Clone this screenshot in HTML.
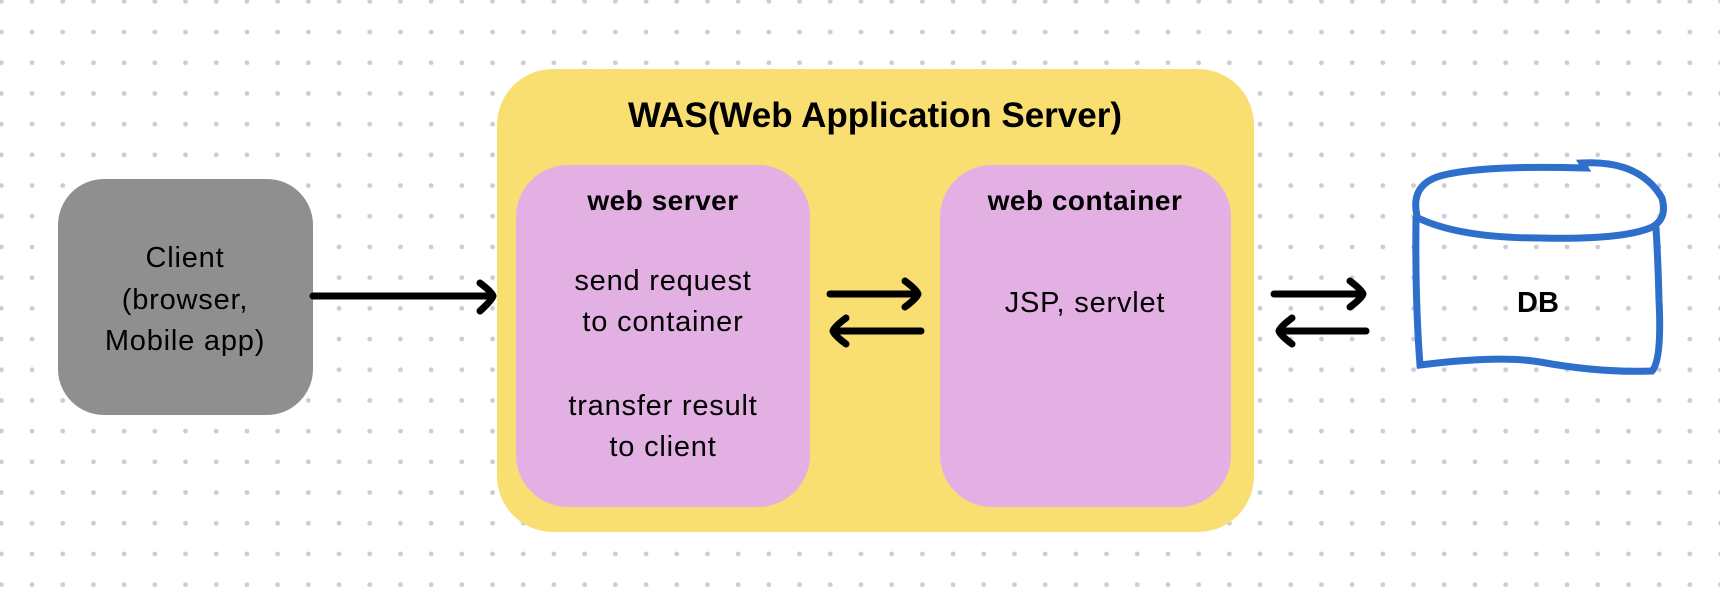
<!DOCTYPE html>
<html><head><meta charset="utf-8"><style>
body{margin:0;width:1720px;height:606px;overflow:hidden;background:#fff;font-family:"Liberation Sans",sans-serif;}
</style></head><body>
<svg width="1720" height="606" viewBox="0 0 1720 606" xmlns="http://www.w3.org/2000/svg">
<defs><pattern id="d" x="-14" y="-14" width="30.7" height="30.7" patternUnits="userSpaceOnUse"><circle cx="15.35" cy="15.35" r="2.4" fill="#c9cdd6"/></pattern></defs>
<rect width="1720" height="606" fill="url(#d)"/>
<rect x="58" y="179" width="255" height="236" rx="46" fill="#8f8f8f"/>
<rect x="497" y="69" width="757" height="463" rx="56" fill="#f9de72"/>
<rect x="516" y="165" width="294" height="342" rx="52" fill="#e2b0e2"/>
<rect x="940" y="165" width="291" height="342" rx="52" fill="#e2b0e2"/>
<g stroke="#000" stroke-width="7" fill="none" stroke-linecap="round" stroke-linejoin="round">
<line x1="313" y1="296" x2="492" y2="296"/><path d="M480 283 Q492 292 493 296 Q492 300 480 311"/>
<line x1="830" y1="294" x2="917" y2="294"/><path d="M905 281 Q917 290 918 294 Q917 298 905 307"/>
<line x1="921" y1="331" x2="834" y2="331"/><path d="M846 318 Q834 327 833 331 Q834 335 846 344"/>
<line x1="1274" y1="294" x2="1362" y2="294"/><path d="M1350 281 Q1362 290 1363 294 Q1362 298 1350 307"/>
<line x1="1366" y1="331" x2="1280" y2="331"/><path d="M1292 318 Q1280 327 1279 331 Q1280 335 1292 344"/>
</g>
<g stroke="#2f6fcc" stroke-width="7" fill="none" stroke-linecap="round">
<path d="M1417 216 Q1410 185 1440 176 Q1480 165 1585 168 L1582 163 Q1640 160 1662 198 Q1668 220 1650 228 Q1620 240 1540 238 Q1460 238 1418 218"/>
<path d="M1416 218 Q1415 300 1420 365 Q1500 355 1540 362 Q1600 373 1652 371 Q1662 360 1659 300 Q1658 260 1656 228"/>
</g>
<g font-family="'Liberation Sans',sans-serif" text-anchor="middle">
<text x="875" y="127" font-size="35" font-weight="bold">WAS(Web Application Server)</text>
<text x="663" y="210" font-size="28" font-weight="bold" letter-spacing="0.5">web server</text>
<text x="1085" y="210" font-size="28" font-weight="bold" letter-spacing="0.5">web container</text>
<text x="663" y="290" font-size="29" letter-spacing="0.8">send request</text>
<text x="663" y="331" font-size="29" letter-spacing="0.8">to container</text>
<text x="663" y="415" font-size="29" letter-spacing="0.8">transfer result</text>
<text x="663" y="456" font-size="29" letter-spacing="0.8">to client</text>
<text x="1085" y="312" font-size="29" letter-spacing="0.8">JSP, servlet</text>
<text x="185" y="267" font-size="29" letter-spacing="0.8">Client</text>
<text x="185" y="309" font-size="29" letter-spacing="0.8">(browser,</text>
<text x="185" y="350" font-size="29" letter-spacing="0.8">Mobile app)</text>
<text x="1538" y="312" font-size="29" font-weight="bold">DB</text>
</g>
</svg>
</body></html>
